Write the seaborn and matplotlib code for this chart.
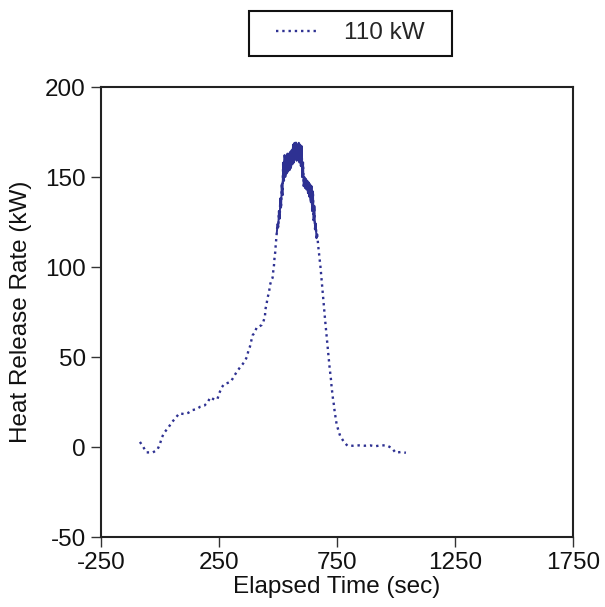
import numpy as np
import pandas as pd
import seaborn as sns
import matplotlib.pyplot as plt
from matplotlib.patches import Rectangle

# heat release curve for the 110 kW test
rise_time = [-85, -71, -57, -30, -11, 0, 7, 18, 35, 49, 65, 82, 102, 120, 137, 154,
             171, 188, 202, 213, 230, 243, 251, 261, 272, 287, 301, 310, 323, 336,
             350, 360, 370, 375, 381, 387, 392, 401, 410, 421, 431, 438, 445, 446,
             452, 456, 462, 466, 473, 477, 480, 483, 485, 488, 490]
rise_hrr = [2.8, 0, -3, -3, -1.5, 1.7, 5, 8, 10.7, 13.5, 16, 18.7, 18.3, 19, 20.5, 21,
            22.4, 23, 24.8, 27.6, 26.3, 26.5, 29.8, 33, 35, 35.6, 36.5, 38.5, 41.3, 43.7,
            46, 47.8, 50.6, 54, 55.7, 59, 62, 63.5, 66.5, 67, 67.8, 69.6, 72.8, 76,
            79.8, 83, 86, 90, 93, 94, 97.8, 101, 104.6, 108, 111.6]

# noisy section around the peak (dense samples, shows as a solid band)
peak_time = [495, 498, 501, 504, 507, 510, 513, 516, 519, 522, 525, 528, 531, 534,
             537, 540, 543, 546, 549, 552, 555, 558, 561, 564, 567, 570, 573, 576,
             579, 582, 585, 588, 591, 594, 597, 600, 603, 606, 609, 612, 615, 618,
             621, 624, 627, 630, 633, 636, 639, 642, 645, 648, 651, 654, 657, 660,
             663, 666]
peak_hrr = [119, 124, 122, 131, 127, 138, 133, 146, 140, 158, 148, 162, 150, 161,
            152, 163, 153, 163, 154, 164, 155, 165, 157, 168, 158, 169, 160, 169,
            159, 168, 160, 169, 158, 168, 156, 167, 150, 158, 145, 150, 144, 149,
            143, 148, 141, 147, 139, 146, 136, 145, 131, 142, 126, 134, 121, 124,
            116, 118]

fall_time = [671, 680, 690, 700, 710, 718, 725, 727, 730, 733, 737, 740, 744, 748,
             755, 763, 777, 794, 819, 843, 867, 890, 911, 935, 960, 983, 998, 1019, 1042]
fall_hrr = [111, 100, 85, 70, 56, 45, 36.8, 33.5, 30, 26.7, 23.3, 19.8, 16.3, 13,
            9.6, 6.3, 3.3, 0.7, 0.7, 0.9, 0.7, 0.9, 0.4, 0.9, 0.9, -0.6, -3.2, -2.8, -3.2]

x_ticks = [-250, 250, 750, 1250, 1750]
y_ticks = [-50, 0, 50, 100, 150, 200]

df = pd.DataFrame({'time': rise_time + peak_time + fall_time,
                   'hrr': rise_hrr + peak_hrr + fall_hrr})
peak = pd.DataFrame({'time': peak_time, 'hrr': peak_hrr})

sns.set_style('ticks')
plt.rcParams['font.family'] = ['Liberation Sans', 'DejaVu Sans']
plt.rcParams['axes.unicode_minus'] = False

fig = plt.figure(figsize=(6.05, 6.07), dpi=100)
ax = fig.add_axes([101 / 605, 1 - 537 / 607, 472 / 605, 450 / 607])

line_color = '#2e3192'
sns.lineplot(data=df, x='time', y='hrr', estimator=None, sort=False, ax=ax,
             color=line_color, linestyle=':', linewidth=1.7, label='110 kW', legend=False)
# the dense samples merge into a solid band
sns.lineplot(data=peak, x='time', y='hrr', estimator=None, sort=False, ax=ax,
             color=line_color, linestyle='-', linewidth=1.4, legend=False)

ax.set_xlim(-250, 1750)
ax.set_ylim(-50, 200)
ax.set_xticks(x_ticks)
ax.set_yticks(y_ticks)
ax.tick_params(direction='out', length=7, width=1, pad=4, labelsize=17.5,
               colors='#333333', labelcolor='#111111')
for sp in ax.spines.values():
    sp.set_visible(True)
    sp.set_linewidth(1.5)
    sp.set_color('#222222')

ax.set_xlabel('Elapsed Time (sec)', fontsize=17.5, labelpad=1, color='#111111')
ax.set_ylabel('Heat Release Rate (kW)', fontsize=17.5, labelpad=9, color='#111111')

# legend entries without their own frame; the wider box is drawn separately
handles, labels = ax.get_legend_handles_labels()
fig.legend(handles, labels, loc='center', bbox_to_anchor=(350 / 605, 1 - 33 / 607),
           frameon=False, fontsize=17.5, handlelength=1.7,
           borderpad=0.4, handletextpad=1.1, borderaxespad=0)
fig.patches.append(Rectangle((249 / 605, 1 - 56 / 607), 203 / 605, 45 / 607,
                             transform=fig.transFigure, fill=False,
                             edgecolor='#111111', linewidth=1.5))

fig.savefig('out.png', dpi=100)
